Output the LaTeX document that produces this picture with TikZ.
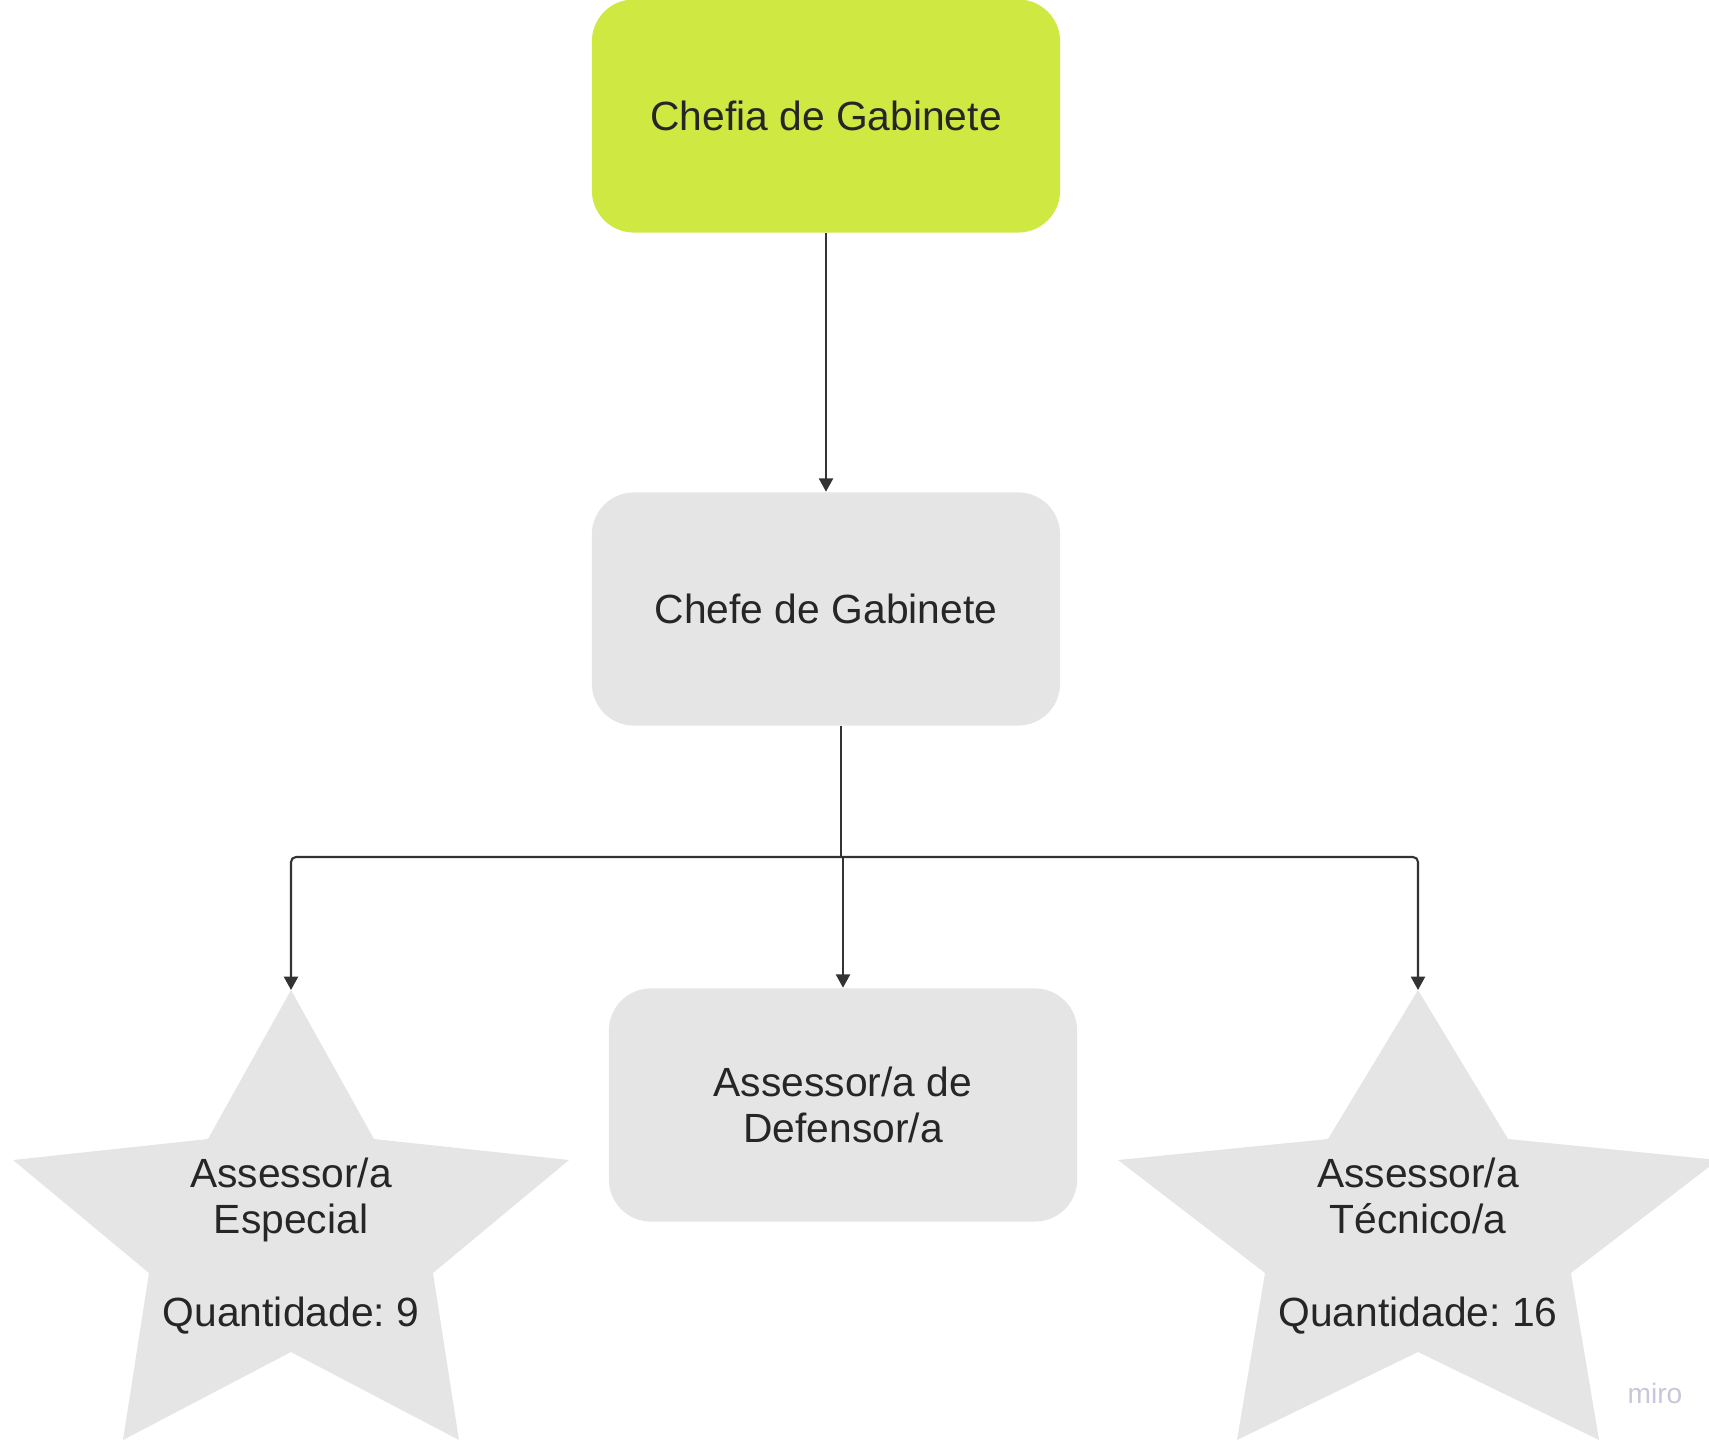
\documentclass[tikz,border=0pt]{standalone}
\usepackage{fontspec}
\setmainfont{Liberation Sans}
\frenchspacing
\usetikzlibrary{arrows.meta}
\definecolor{lime}{RGB}{207,232,66}
\definecolor{boxgray}{RGB}{229,229,229}
\definecolor{txtgray}{RGB}{38,38,38}
\definecolor{linegray}{RGB}{51,51,51}
\definecolor{mirogray}{RGB}{200,198,216}
\begin{document}
\begin{tikzpicture}[x=0.01cm, y=-0.01cm,
  box/.style={rectangle, rounded corners=0.42cm, fill=boxgray, minimum width=4.68cm,
    minimum height=2.33cm, inner sep=0pt, align=center, text=txtgray,
    font=\fontsize{11.6}{13.1}\selectfont},
  startext/.style={align=center, text=txtgray, font=\fontsize{11.6}{13.1}\selectfont},
  link/.style={draw=linegray, line width=0.6pt, -{Triangle[length=3.8pt, width=4pt]}}]
\useasboundingbox (0,0) rectangle (1709,1440);

\node [box, fill=lime] (chefia) at (826,116) {Chefia de Gabinete};
\node [box] (chefe) at (826,609) {Chefe de Gabinete};
\node [box] (defensor) at (843,1105) {Assessor/a de\\Defensor/a};

% stars
\fill [boxgray] (291,990) -- (374,1139) -- (569,1160) -- (433,1273) -- (459,1440)
  -- (291,1352) -- (123,1440) -- (149,1273) -- (13,1160) -- (208,1139) -- cycle;
\fill [boxgray] (1418,990) -- (1508,1139) -- (1718,1160) -- (1571,1273) -- (1599,1440)
  -- (1418,1352) -- (1237,1440) -- (1265,1273) -- (1118,1160) -- (1328,1139) -- cycle;
\coordinate (especialtop) at (291,990);
\coordinate (tecnicotop) at (1418,990);
\node [startext] (especial) at (291,1246) {Assessor/a\\Especial\\[13.1pt]Quantidade: 9};
\node [startext] (tecnico) at (1418,1246) {Assessor/a\\Técnico/a\\[13.1pt]Quantidade: 16};

% connectors
\coordinate (split) at (841,857);
\draw [link] (chefia.south) -- (chefe.north);
\draw [link] (chefe.south -| split) -- (split) -| (defensor.north);
\draw [link, rounded corners=0.05cm] (split) -| (especialtop);
\draw [link, rounded corners=0.05cm] (split) -| (tecnicotop);

\node [text=mirogray, font=\fontsize{8}{8}\selectfont] (miro) at (1655,1393) {miro};
\end{tikzpicture}
\end{document}
